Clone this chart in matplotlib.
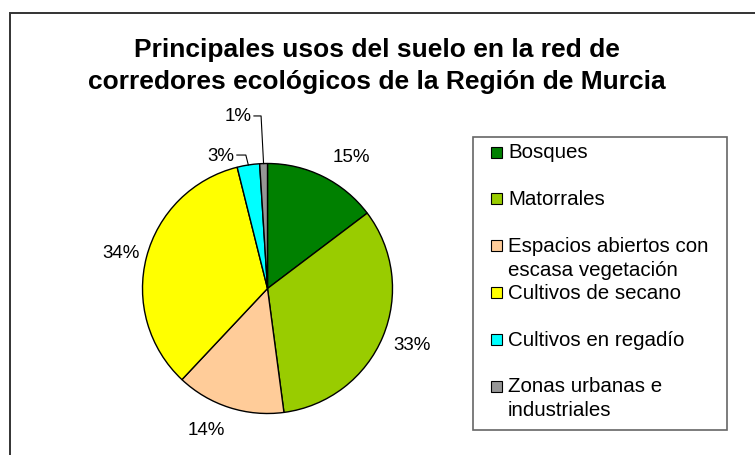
import matplotlib.pyplot as plt
import numpy as np
from matplotlib.patches import Rectangle
from matplotlib.lines import Line2D

plt.rcParams["font.family"] = ["Liberation Sans", "DejaVu Sans"]

# data
categories = [
    "Bosques",
    "Matorrales",
    "Espacios abiertos con\nescasa vegetación",
    "Cultivos de secano",
    "Cultivos en regadío",
    "Zonas urbanas e\nindustriales",
]
shares = [14.7, 33.2, 14.1, 34.1, 2.9, 1.0]
colors = ["#008000", "#99CC00", "#FFCC99", "#FFFF00", "#00FFFF", "#969696"]
title = "Principales usos del suelo en la red de\ncorredores ecológicos de la Región de Murcia"

# label placement: clockwise nudge (deg) and radial distance per slice
label_shift = [5.9, -1.5, 5.6, -0.8, -10.3, -7.8]
label_dist = [1.25, 1.24, 1.23, 1.21, 1.13, 1.40]
leader = [False, False, False, False, True, True]

W, H = 755, 456


def fx(x):
    return x / W


def fy(y):
    return 1 - y / H


fig = plt.figure(figsize=(W / 100, H / 100), dpi=100)

# outer chart border (runs off the right and bottom of the picture)
fig.add_artist(Rectangle((fx(10), fy(520)), 1.2, (520 - 14) / H,
                         transform=fig.transFigure, fill=False,
                         edgecolor="#333333", linewidth=1.4))

fig.text(fx(377), fy(66), title, ha="center", va="center",
         fontsize=19, fontweight="bold", linespacing=1.38)

# pie
cx, cy, r = 267.5, 289.5, 125
ax = fig.add_axes([fx(cx - r), fy(cy + r), 2 * r / W, 2 * r / H])
wedges, _ = ax.pie(shares, colors=colors, startangle=90, counterclock=False,
                   wedgeprops=dict(edgecolor="black", linewidth=1.0))
ax.set_xlim(-1, 1)
ax.set_ylim(-1, 1)
ax.set_aspect("equal")
ax.axis("off")

total = sum(shares)
for w, v, sh, d, ld in zip(wedges, shares, label_shift, label_dist, leader):
    mid = np.deg2rad((w.theta1 + w.theta2) / 2 - sh)
    lx, ly = d * np.cos(mid), d * np.sin(mid)
    ax.text(lx, ly, f"{round(v / total * 100)}%", ha="center", va="center",
            fontsize=13.5, clip_on=False)
    if ld:
        m = np.deg2rad((w.theta1 + w.theta2) / 2)
        px, py = np.cos(m), np.sin(m)
        ax.add_line(Line2D([lx + 0.125, px - 0.02, px], [ly, ly, py],
                           color="black", linewidth=0.8, clip_on=False))

# legend
fig.add_artist(Rectangle((fx(473), fy(431)), fx(727 - 473), (431 - 138) / H,
                         transform=fig.transFigure, fill=False,
                         edgecolor="#666666", linewidth=1.2))
for i, (name, c) in enumerate(zip(categories, colors)):
    y0 = 153 + 46.8 * i
    fig.add_artist(Rectangle((fx(491), fy(y0 + 5.5)), 11 / W, 11 / H,
                             transform=fig.transFigure, facecolor=c,
                             edgecolor="black", linewidth=0.8))
    for j, line in enumerate(name.split("\n")):
        fig.text(fx(508), fy(y0 + 24 * j), line, ha="left", va="center",
                 fontsize=14.8)

fig.savefig("out.png", dpi=100)
